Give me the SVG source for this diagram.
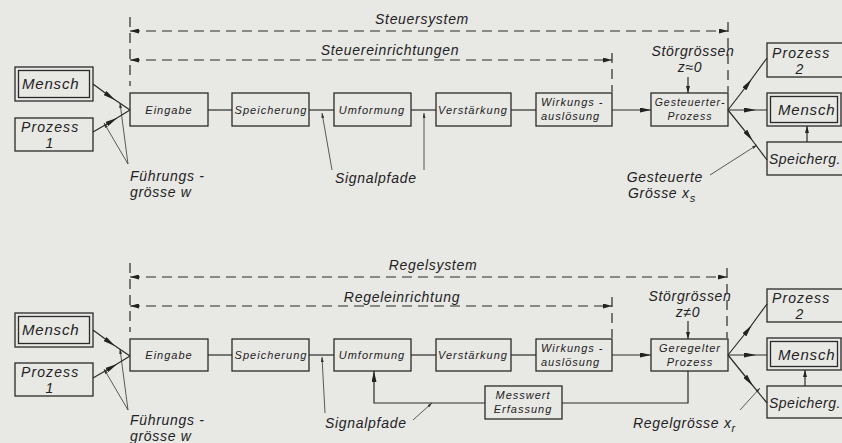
<svg xmlns="http://www.w3.org/2000/svg" width="842" height="443" viewBox="0 0 842 443">
<style>
.bg{fill:#e8e8e5}
.box{fill:none;stroke:#2a2a2a;stroke-width:1.3}
.ln{fill:none;stroke:#2a2a2a;stroke-width:1.2}
.thin{fill:none;stroke:#333;stroke-width:0.8}
.dash{fill:none;stroke:#2a2a2a;stroke-width:1.2;stroke-dasharray:10 6}
text{font-family:"Liberation Sans",Arial,sans-serif;font-style:italic;fill:#222}
.s{font-size:11px;letter-spacing:1px}
.b{font-size:15px;letter-spacing:0.8px}
.p{font-size:14px;letter-spacing:1.1px}
.t{font-size:14px;letter-spacing:0.7px}
.sp{font-size:14px;letter-spacing:0.5px}
.c{text-anchor:middle}
</style>
<defs>
<marker id="mid" viewBox="0 0 12 5" refX="6" refY="2.5" markerWidth="12" markerHeight="5" markerUnits="userSpaceOnUse" orient="auto"><path d="M0,0 L12,2.5 L0,5 z" fill="#222"/></marker>
<marker id="end" viewBox="0 0 11 5" refX="11" refY="2.5" markerWidth="11" markerHeight="5" markerUnits="userSpaceOnUse" orient="auto"><path d="M0,0 L11,2.5 L0,5 z" fill="#222"/></marker>
<marker id="sm" viewBox="0 0 7 4" refX="7" refY="2" markerWidth="7" markerHeight="4" markerUnits="userSpaceOnUse" orient="auto"><path d="M0,0 L7,2 L0,4 z" fill="#222"/></marker>
<marker id="tk" viewBox="0 0 5 3" refX="5" refY="1.5" markerWidth="5" markerHeight="3" markerUnits="userSpaceOnUse" orient="auto"><path d="M0,0 L5,1.5 L0,3 z" fill="#333"/></marker>
<marker id="dm" viewBox="0 0 9 5" refX="9" refY="2.5" markerWidth="9" markerHeight="5" markerUnits="userSpaceOnUse" orient="auto-start-reverse"><path d="M0,0 L9,2.5 L0,5 z" fill="#222"/></marker>
</defs>
<rect class="bg" x="0" y="0" width="842" height="443"/>

<g id="connectors">
<path class="dash" d="M130,17 V86"/>
<path class="dash" d="M130,31 H728" marker-start="url(#dm)" marker-end="url(#dm)"/>
<path class="dash" d="M728,22 V92"/>
<path class="dash" d="M130,60 H612" marker-start="url(#dm)" marker-end="url(#dm)"/>
<path class="dash" d="M612,53 V92"/>
<polyline class="ln" points="93,84 110,96.5 130,110" marker-mid="url(#mid)"/>
<polyline class="ln" points="93,132 112,121 130,110" marker-mid="url(#mid)"/>
<line class="ln" x1="208" y1="110" x2="232" y2="110"/>
<line class="ln" x1="309" y1="110" x2="334" y2="110"/>
<line class="ln" x1="411" y1="110" x2="436" y2="110"/>
<line class="ln" x1="511" y1="110" x2="536" y2="110"/>
<path class="ln" d="M612,110 H651" marker-end="url(#end)"/>
<path class="ln" d="M688,77 V93" marker-end="url(#sm)"/>
<polyline class="ln" points="728,110 748,84 767,58" marker-mid="url(#mid)"/>
<polyline class="ln" points="728,110 750,110 767,110" marker-mid="url(#mid)"/>
<polyline class="ln" points="728,110 749,136 767,160" marker-mid="url(#mid)"/>
<path class="ln" d="M807,142 V126" marker-end="url(#sm)"/>
<path class="thin" d="M128,164 L120,103" marker-end="url(#tk)"/>
<path class="thin" d="M128,164 L104,123" marker-end="url(#tk)"/>
<path class="thin" d="M332,170 L322,113" marker-end="url(#tk)"/>
<path class="thin" d="M424,170 L424,113" marker-end="url(#tk)"/>
<path class="thin" d="M710,175 L757,145" marker-end="url(#tk)"/>
<path class="dash" d="M130,263 V332"/>
<path class="dash" d="M130,277 H727" marker-start="url(#dm)" marker-end="url(#dm)"/>
<path class="dash" d="M727,268 V338"/>
<path class="dash" d="M130,306 H612" marker-start="url(#dm)" marker-end="url(#dm)"/>
<path class="dash" d="M612,297 V338"/>
<polyline class="ln" points="93,330 110,342.5 130,356" marker-mid="url(#mid)"/>
<polyline class="ln" points="93,378 112,367 130,356" marker-mid="url(#mid)"/>
<line class="ln" x1="208" y1="355" x2="232" y2="355"/>
<line class="ln" x1="309" y1="355" x2="334" y2="355"/>
<line class="ln" x1="411" y1="355" x2="436" y2="355"/>
<line class="ln" x1="511" y1="355" x2="536" y2="355"/>
<path class="ln" d="M612,355 H651" marker-end="url(#end)"/>
<path class="ln" d="M688,321 V339" marker-end="url(#sm)"/>
<polyline class="ln" points="728,355 748,330 767,304" marker-mid="url(#mid)"/>
<polyline class="ln" points="728,355 750,355 767,355" marker-mid="url(#mid)"/>
<polyline class="ln" points="728,355 749,381 767,403" marker-mid="url(#mid)"/>
<path class="ln" d="M805,386 V370" marker-end="url(#sm)"/>
<path class="ln" d="M688,371 V403 H562"/>
<path class="ln" d="M485,403 H374 V371" marker-end="url(#end)"/>
<path class="thin" d="M128,410 L120,349" marker-end="url(#tk)"/>
<path class="thin" d="M128,410 L104,369" marker-end="url(#tk)"/>
<path class="thin" d="M325,413 L322,357" marker-end="url(#tk)"/>
<path class="thin" d="M413,420 L432,403" marker-end="url(#tk)"/>
<path class="thin" d="M740,410 L760,388" marker-end="url(#tk)"/>
</g>

<g id="labels-top">
<text class="t c" x="422" y="24">Steuersystem</text>
<text class="t c" x="390" y="55">Steuereinrichtungen</text>
<text class="t c" x="693" y="56">Störgrössen</text>
<text class="t c" x="690" y="72">z≈0</text>
<text class="t" x="130" y="181">Führungs -</text>
<text class="t" x="130" y="197">grösse  w</text>
<text class="t" x="335" y="183">Signalpfade</text>
<text class="t" x="703" y="182" text-anchor="end">Gesteuerte</text>
<text class="t" x="628" y="198">Grösse  x<tspan font-size="11" dy="4">s</tspan></text>
</g>
<g id="labels-bottom">
<text class="t c" x="433" y="270">Regelsystem</text>
<text class="t c" x="402" y="302">Regeleinrichtung</text>
<text class="t c" x="690" y="301">Störgrössen</text>
<text class="t c" x="688" y="317">z≠0</text>
<text class="t" x="130" y="425">Führungs -</text>
<text class="t" x="130" y="441">grösse  w</text>
<text class="t" x="325" y="428">Signalpfade</text>
<text class="t" x="633" y="428">Regelgrösse  x<tspan font-size="11" dy="4">r</tspan></text>
</g>

<g id="mensch-in-1"><rect class="box" x="15" y="67" width="78" height="34"/><rect class="box" x="18.5" y="70.5" width="71" height="27"/><text class="b" x="22" y="89">Mensch</text></g>
<g id="prozess1-1"><rect class="box" x="15" y="118" width="78" height="33"/><text class="p" x="21" y="132">Prozess</text><text class="p c" x="50" y="148">1</text></g>
<g id="eingabe-1"><rect class="box" x="130" y="93" width="78" height="33"/><text class="s c" x="169" y="114">Eingabe</text></g>
<g id="speicherung-1"><rect class="box" x="232" y="93" width="77" height="33"/><text class="s c" x="271" y="114">Speicherung</text></g>
<g id="umformung-1"><rect class="box" x="334" y="93" width="77" height="33"/><text class="s c" x="372" y="114">Umformung</text></g>
<g id="verstaerkung-1"><rect class="box" x="436" y="93" width="75" height="33"/><text class="s c" x="473" y="114">Verstärkung</text></g>
<g id="wirkung-1"><rect class="box" x="536" y="93" width="76" height="33"/><text class="s" x="541" y="106">Wirkungs -</text><text class="s" x="541" y="120">auslösung</text></g>
<g id="prozess-gest"><rect class="box" x="651" y="93" width="77" height="33"/><text class="s c" x="690" y="106" style="font-size:10.5px">Gesteuerter-</text><text class="s c" x="690" y="120" style="font-size:10.5px">Prozess</text></g>
<g id="prozess2-1"><rect class="box" x="767" y="43" width="82" height="34"/><text class="p" x="772" y="58">Prozess</text><text class="p c" x="800" y="74">2</text></g>
<g id="mensch-out-1"><rect class="box" x="767" y="93" width="74" height="33"/><rect class="box" x="770.5" y="96.5" width="67" height="26"/><text class="b" x="778" y="115">Mensch</text></g>
<g id="speicherg-1"><rect class="box" x="767" y="142" width="82" height="33"/><text class="sp" x="769" y="164">Speicherg.</text></g>

<g id="mensch-in-2"><rect class="box" x="15" y="313" width="78" height="34"/><rect class="box" x="18.5" y="316.5" width="71" height="27"/><text class="b" x="22" y="335">Mensch</text></g>
<g id="prozess1-2"><rect class="box" x="15" y="363" width="78" height="33"/><text class="p" x="21" y="377">Prozess</text><text class="p c" x="50" y="393">1</text></g>
<g id="eingabe-2"><rect class="box" x="130" y="339" width="78" height="32"/><text class="s c" x="169" y="359">Eingabe</text></g>
<g id="speicherung-2"><rect class="box" x="232" y="339" width="77" height="32"/><text class="s c" x="271" y="359">Speicherung</text></g>
<g id="umformung-2"><rect class="box" x="334" y="339" width="77" height="32"/><text class="s c" x="372" y="359">Umformung</text></g>
<g id="verstaerkung-2"><rect class="box" x="436" y="339" width="75" height="32"/><text class="s c" x="473" y="359">Verstärkung</text></g>
<g id="wirkung-2"><rect class="box" x="536" y="339" width="76" height="32"/><text class="s" x="541" y="352">Wirkungs -</text><text class="s" x="541" y="366">auslösung</text></g>
<g id="prozess-geregelt"><rect class="box" x="651" y="339" width="77" height="32"/><text class="s c" x="690" y="352">Geregelter</text><text class="s c" x="690" y="366">Prozess</text></g>
<g id="messwert"><rect class="box" x="485" y="386" width="77" height="33"/><text class="s c" x="523" y="399">Messwert</text><text class="s c" x="523" y="413">Erfassung</text></g>
<g id="prozess2-2"><rect class="box" x="767" y="289" width="82" height="33"/><text class="p" x="772" y="303">Prozess</text><text class="p c" x="800" y="319">2</text></g>
<g id="mensch-out-2"><rect class="box" x="767" y="338" width="74" height="32"/><rect class="box" x="770.5" y="341.5" width="67" height="25"/><text class="b" x="778" y="360">Mensch</text></g>
<g id="speicherg-2"><rect class="box" x="767" y="386" width="82" height="32"/><text class="sp" x="769" y="408">Speicherg.</text></g>
</svg>
